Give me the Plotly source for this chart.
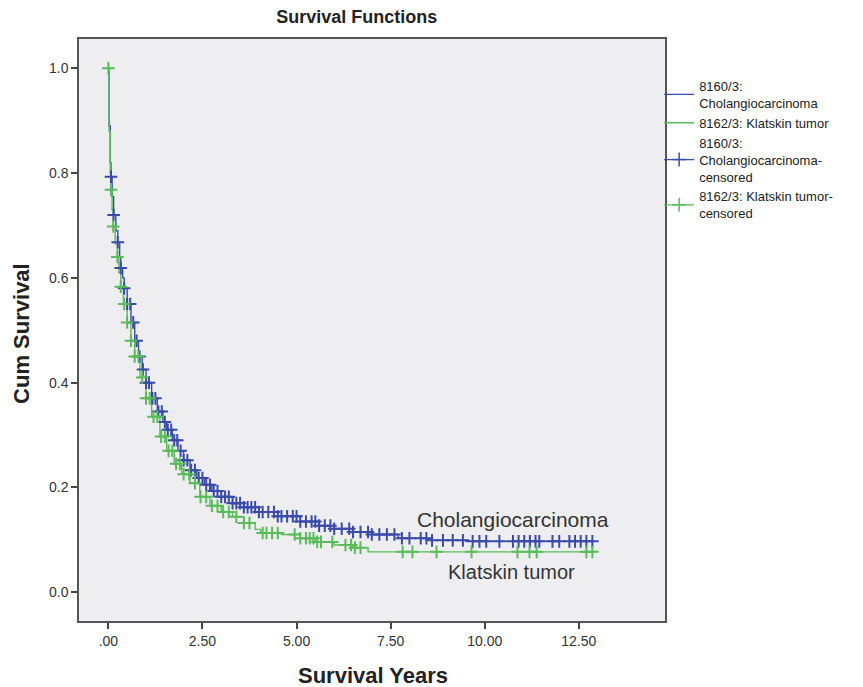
import plotly.graph_objects as go
import numpy as np

# ---- data ----
chol_time = [0.00, 0.02, 0.05, 0.07, 0.10, 0.14, 0.20, 0.25, 0.30, 0.33, 0.38, 0.42, 0.50, 0.60,
             0.70, 0.80, 0.90, 1.00, 1.15, 1.30, 1.45, 1.55, 1.70, 1.85, 2.00, 2.17, 2.35, 2.55,
             2.75, 3.00, 3.30, 3.60, 4.00, 4.50, 5.10, 5.60, 6.00, 6.50, 7.00, 7.70, 8.50, 9.50, 12.90]
chol_surv = [1.000, 0.890, 0.820, 0.793, 0.755, 0.720, 0.690, 0.668, 0.640, 0.619, 0.600, 0.580,
             0.550, 0.515, 0.480, 0.450, 0.425, 0.400, 0.370, 0.345, 0.325, 0.310, 0.290, 0.270,
             0.252, 0.233, 0.218, 0.205, 0.193, 0.182, 0.170, 0.162, 0.153, 0.145, 0.135, 0.127,
             0.121, 0.115, 0.110, 0.103, 0.099, 0.097, 0.097]

klat_time = [0.00, 0.02, 0.05, 0.07, 0.10, 0.13, 0.18, 0.24, 0.28, 0.33, 0.40, 0.50, 0.60, 0.70,
             0.84, 1.00, 1.15, 1.37, 1.55, 1.75, 1.95, 2.17, 2.43, 2.70, 3.00, 3.30, 3.60, 3.90,
             4.05, 4.60, 5.10, 5.50, 6.00, 6.50, 6.90, 12.90]
klat_surv = [1.000, 0.880, 0.800, 0.768, 0.730, 0.698, 0.665, 0.640, 0.610, 0.583, 0.550, 0.515,
             0.480, 0.450, 0.410, 0.370, 0.335, 0.297, 0.270, 0.245, 0.225, 0.208, 0.182, 0.165,
             0.153, 0.144, 0.132, 0.120, 0.113, 0.110, 0.103, 0.096, 0.090, 0.085, 0.077, 0.077]

chol_censor = [0.07, 0.14, 0.25, 0.33, 0.42, 0.50, 0.58, 0.66, 0.75, 0.83, 0.92, 1.00, 1.08, 1.17,
               1.25, 1.33, 1.42, 1.50, 1.58, 1.67, 1.75, 1.83, 1.92, 2.00, 2.10, 2.20, 2.30, 2.40,
               2.50, 2.60, 2.70, 2.80, 2.90, 3.00, 3.10, 3.20, 3.30, 3.40, 3.50, 3.60, 3.70, 3.80,
               3.90, 4.00, 4.10, 4.25, 4.40, 4.50, 4.60, 4.75, 4.90, 5.00, 5.10, 5.25, 5.40, 5.50,
               5.60, 5.75, 5.90, 6.00, 6.20, 6.40, 6.50, 6.70, 6.90, 7.00, 7.20, 7.40, 7.60, 7.80,
               8.00, 8.30, 8.45, 8.60, 8.89, 9.15, 9.42, 9.68, 9.86, 10.04, 10.39, 10.75, 10.90,
               11.05, 11.20, 11.35, 11.45, 11.80, 11.98, 12.25, 12.40, 12.55, 12.70, 12.86]
klat_censor = [0.00, 0.07, 0.13, 0.24, 0.33, 0.42, 0.50, 0.60, 0.70, 0.80, 0.90, 1.00, 1.10, 1.20,
               1.30, 1.40, 1.50, 1.60, 1.70, 1.80, 1.90, 2.00, 2.15, 2.30, 2.45, 2.60, 2.75, 2.90,
               3.05, 3.20, 3.40, 3.60, 3.75, 4.10, 4.20, 4.35, 4.50, 4.95, 5.10, 5.25, 5.35, 5.45,
               5.55, 5.65, 5.95, 6.30, 6.45, 6.55, 6.70, 7.82, 8.08, 8.72, 9.65, 10.87, 11.19,
               11.38, 12.70, 12.86]

x_tickvals = [0, 2.5, 5, 7.5, 10, 12.5]
x_ticktext = [".00", "2.50", "5.00", "7.50", "10.00", "12.50"]
y_tickvals = [0.0, 0.2, 0.4, 0.6, 0.8, 1.0]

BLUE = "rgb(58,74,168)"
GREEN = "rgb(88,188,88)"


def step_value(times, surv, t):
    idx = np.searchsorted(np.array(times), t, side="right") - 1
    idx = max(0, min(idx, len(surv) - 1))
    return surv[idx]


chol_cy = [step_value(chol_time, chol_surv, t) for t in chol_censor]
klat_cy = [step_value(klat_time, klat_surv, t) for t in klat_censor]

fig = go.Figure()

fig.add_trace(go.Scatter(x=chol_time, y=chol_surv, mode="lines", line_shape="hv",
                         line=dict(color=BLUE, width=1.4),
                         name="8160/3:<br>Cholangiocarcinoma"))
fig.add_trace(go.Scatter(x=klat_time, y=klat_surv, mode="lines", line_shape="hv",
                         line=dict(color=GREEN, width=1.4),
                         name="8162/3: Klatskin tumor"))
fig.add_trace(go.Scatter(x=chol_censor, y=chol_cy, mode="markers", showlegend=False,
                         marker=dict(symbol="cross-thin", size=9,
                                     line=dict(color=BLUE, width=2))))
fig.add_trace(go.Scatter(x=klat_censor, y=klat_cy, mode="markers", showlegend=False,
                         marker=dict(symbol="cross-thin", size=9,
                                     line=dict(color=GREEN, width=2))))
# legend entries for censored marks
fig.add_trace(go.Scatter(x=[None], y=[None], mode="lines+markers",
                         line=dict(color=BLUE, width=1.2),
                         marker=dict(symbol="cross-thin", size=10, line=dict(color=BLUE, width=1.5)),
                         name="8160/3:<br>Cholangiocarcinoma-<br>censored"))
fig.add_trace(go.Scatter(x=[None], y=[None], mode="lines+markers",
                         line=dict(color=GREEN, width=1.2),
                         marker=dict(symbol="cross-thin", size=10, line=dict(color=GREEN, width=1.5)),
                         name="8162/3: Klatskin tumor-<br>censored"))

fig.add_annotation(x=10.76, y=0.138, xref="x", yref="y", text="Cholangiocarcinoma",
                   showarrow=False, font=dict(family="Arial", size=21, color="#333"))
fig.add_annotation(x=10.7, y=0.039, xref="x", yref="y", text="Klatskin tumor",
                   showarrow=False, font=dict(family="Arial", size=20, color="#333"))

# axis titles
fig.add_annotation(x=0.502, y=-0.093, xref="paper", yref="paper", text="<b>Survival Years</b>",
                   showarrow=False, xanchor="center", yanchor="middle",
                   font=dict(family="Arial", size=22, color="#222"))
fig.add_annotation(x=-0.0973, y=0.495, xref="paper", yref="paper", text="<b>Cum Survival</b>",
                   showarrow=False, xanchor="center", yanchor="middle", textangle=-90,
                   font=dict(family="Arial", size=22, color="#222"))

axis_common = dict(showline=True, linecolor="#555", linewidth=1.5, mirror=True,
                   ticks="outside", ticklen=6, tickcolor="#444", tickwidth=1.5,
                   showgrid=False, zeroline=False,
                   tickfont=dict(family="Arial", size=14, color="#333"))

fig.update_layout(
    width=863, height=687,
    margin=dict(l=71, r=206, t=31, b=74, autoexpand=False),
    paper_bgcolor="white", plot_bgcolor="rgb(238,238,241)",
    title=dict(text="<b>Survival Functions</b>", x=0.474, xref="paper", xanchor="center",
               y=1 - 9 / 687, yref="container", yanchor="middle",
               font=dict(family="Arial", size=18, color="#222")),
    xaxis=dict(range=[-0.78, 14.79], tickvals=x_tickvals, ticktext=x_ticktext,
               **axis_common),
    yaxis=dict(range=[-0.055, 1.056], tickvals=y_tickvals, tickformat=".1f",
               **axis_common),
    legend=dict(x=0.99, xanchor="left", y=0.945, yanchor="top",
                font=dict(family="Arial", size=13, color="#222"),
                bgcolor="rgba(0,0,0,0)", tracegroupgap=0, itemwidth=30),
    showlegend=True,
)

fig.write_html("out.html")
